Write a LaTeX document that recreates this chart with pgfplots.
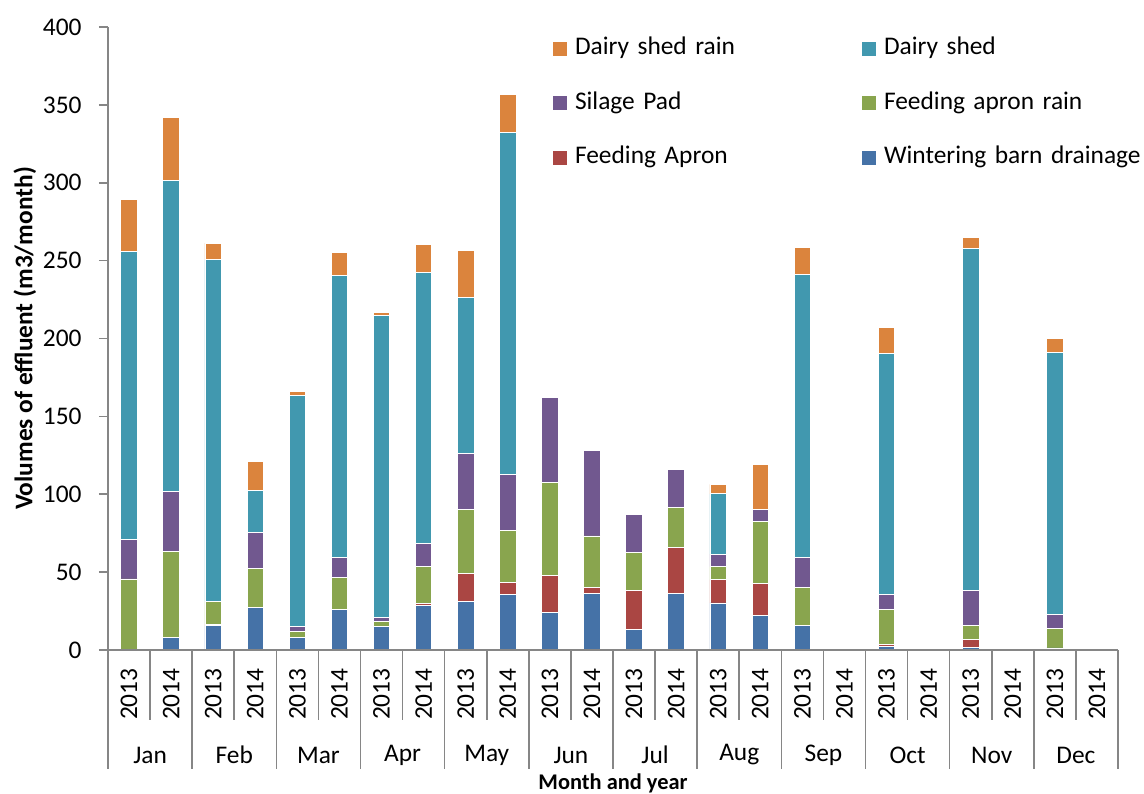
\documentclass[border=0pt]{standalone}
\usepackage{fontspec}
\setmainfont{Carlito}
\usepackage{pgfplots}
\pgfplotsset{compat=1.18}
\usepackage{pgfplotstable}
\definecolor{cWB}{HTML}{4572A7}
\definecolor{cFA}{HTML}{AA4643}
\definecolor{cFAR}{HTML}{89A54E}
\definecolor{cSP}{HTML}{71588F}
\definecolor{cDS}{HTML}{4198AF}
\definecolor{cDSR}{HTML}{DB843D}
\definecolor{axgray}{HTML}{868686}
\newcommand{\mylabfont}{\fontsize{12.7pt}{15pt}\selectfont}
\newcommand{\myylabfont}{\fontsize{12.7pt}{15pt}\selectfont\bfseries}
\newcommand{\myxlabfont}{\fontsize{11.2pt}{13pt}\selectfont\bfseries}

\pgfplotstableread{
x WB FA FAR SP DS DSR
0 0 0 45.6 25.2 185.1 33.4
1 8.3 0 55.0 38.3 200.1 40.2
2 15.6 0.8 14.6 0 219.5 10.7
3 27.2 0 25.2 22.9 27.4 18.2
4 7.9 0 4.3 2.8 148.2 3.0
5 26.3 0 20.3 12.7 181.0 14.9
6 15.0 0 3.2 2.8 193.6 2.3
7 28.7 1.0 23.8 14.7 174.4 17.6
8 31.0 18.0 41.0 36.0 100.4 29.9
9 35.5 7.7 33.4 36.2 219.7 24.2
10 24.2 23.9 59.5 54.6 0 0
11 36.4 3.6 33.2 54.7 0 0
12 13.3 24.8 24.6 24.4 0 0
13 36.6 29.3 25.7 24.1 0 0
14 30.2 14.9 8.4 8.1 38.7 6.0
15 22.0 20.6 39.8 7.9 0 29.1
16 15.7 0 24.5 19.5 181.2 17.8
17 0 0 0 0 0 0
18 2.1 1.5 22.5 9.4 154.9 16.5
19 0 0 0 0 0 0
20 1.7 4.9 9.4 22.5 219.5 6.9
21 0 0 0 0 0 0
22 1.3 0 12.4 9.2 167.9 9.5
23 0 0 0 0 0 0
}\datatable

\pgfplotsset{sqlegend/.style={legend image code/.code={\path[##1,draw=none] (0pt,-3.5pt) rectangle (7pt,3.5pt);}}}

\begin{document}
\begin{tikzpicture}
\useasboundingbox (-54pt,-71.5pt) rectangle (518pt,325pt);
\begin{axis}[
  at={(0,0)}, anchor=south west,
  width=505pt, height=311.5pt, scale only axis,
  ybar stacked, bar width=8.25pt,
  xmin=-0.5, xmax=23.5, ymin=0, ymax=400,
  axis lines*=left,
  axis line style={draw=axgray, line width=0.8pt},
  axis on top,
  clip=false,
  ytick={0,50,...,400},
  xtick={0,...,23},
  xticklabels={2013,2014,2013,2014,2013,2014,2013,2014,2013,2014,2013,2014,2013,2014,2013,2014,2013,2014,2013,2014,2013,2014,2013,2014},
  tick align=outside,
  major tick length=4.5pt,
  major tick style={draw=axgray, line width=0.8pt},
  major x tick style={draw=none},
  /pgf/number format/assume math mode=true,
  yticklabel style={font=\mylabfont, inner sep=0pt, anchor=east, xshift=-8.5pt},
  xticklabel style={font=\mylabfont, yshift=-4.5pt, rotate=90, anchor=east, inner sep=0pt},
  ylabel={Volumes of effluent (m3/month)},
  ylabel style={font=\myylabfont, at={(axis description cs:-0.0822,0.5)}, anchor=center},
  xlabel={Month and year},
  xlabel style={font=\myxlabfont, at={(axis description cs:0.5,0)}, anchor=center, yshift=-66.5pt},
  reverse legend,
  legend columns=2,
  legend cell align=left,
  legend style={draw=none, fill=none, inner sep=0pt, outer sep=0pt,
    at={(rel axis cs:0.4406,0.984)}, anchor=north west,
    row sep=15.25pt,
    nodes={font=\mylabfont, inner sep=0pt, text height=9pt, text depth=3pt, text width=143.5pt},
    /tikz/every odd column/.append style={column sep=4pt},
    /tikz/every even column/.append style={column sep=0pt}},
]
\addplot[fill=cWB, draw=white, line width=0.4pt, sqlegend] table[x=x, y=WB]{\datatable};
\addplot[fill=cFA, draw=white, line width=0.4pt, sqlegend] table[x=x, y=FA]{\datatable};
\addplot[fill=cFAR, draw=white, line width=0.4pt, sqlegend] table[x=x, y=FAR]{\datatable};
\addplot[fill=cSP, draw=white, line width=0.4pt, sqlegend] table[x=x, y=SP]{\datatable};
\addplot[fill=cDS, draw=white, line width=0.4pt, sqlegend] table[x=x, y=DS]{\datatable};
\addplot[fill=cDSR, draw=white, line width=0.4pt, sqlegend] table[x=x, y=DSR]{\datatable};
\legend{Wintering barn drainage, Feeding Apron, Feeding apron rain, Silage Pad, Dairy shed, Dairy shed rain}
\pgfplotsinvokeforeach{0.5,2.5,...,22.5}{\draw[axgray, line width=0.8pt] (axis cs:#1,0) -- ++(0pt,-35pt);}
\pgfplotsinvokeforeach{-0.5,1.5,...,23.5}{\draw[axgray, line width=0.8pt] (axis cs:#1,0) -- ++(0pt,-59.5pt);}
\node[font=\mylabfont] at (axis cs:0.5,0) [yshift=-52.5pt] {Jan};
\node[font=\mylabfont] at (axis cs:2.5,0) [yshift=-52.5pt] {Feb};
\node[font=\mylabfont] at (axis cs:4.5,0) [yshift=-52.5pt] {Mar};
\node[font=\mylabfont] at (axis cs:6.5,0) [yshift=-52.5pt] {Apr};
\node[font=\mylabfont] at (axis cs:8.5,0) [yshift=-52.5pt] {May};
\node[font=\mylabfont] at (axis cs:10.5,0) [yshift=-52.5pt] {Jun};
\node[font=\mylabfont] at (axis cs:12.5,0) [yshift=-52.5pt] {Jul};
\node[font=\mylabfont] at (axis cs:14.5,0) [yshift=-52.5pt] {Aug};
\node[font=\mylabfont] at (axis cs:16.5,0) [yshift=-52.5pt] {Sep};
\node[font=\mylabfont] at (axis cs:18.5,0) [yshift=-52.5pt] {Oct};
\node[font=\mylabfont] at (axis cs:20.5,0) [yshift=-52.5pt] {Nov};
\node[font=\mylabfont] at (axis cs:22.5,0) [yshift=-52.5pt] {Dec};
\end{axis}
\end{tikzpicture}
\end{document}
